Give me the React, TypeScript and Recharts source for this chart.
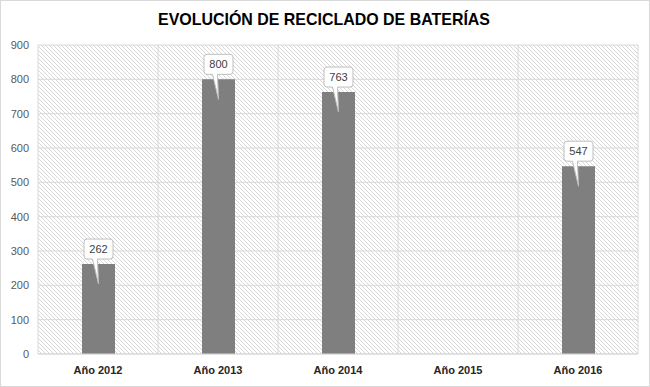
import React from "react";
import { BarChart, Bar, XAxis, YAxis, CartesianGrid, LabelList } from "recharts";

const categories = ["Año 2012", "Año 2013", "Año 2014", "Año 2015", "Año 2016"];
const values: (number | null)[] = [262, 800, 763, null, 547];
const yTicks = [0, 100, 200, 300, 400, 500, 600, 700, 800, 900];
const title = "EVOLUCIÓN DE RECICLADO DE BATERÍAS";

const data = categories.map((c, i) => ({ name: c, value: values[i] }));

const Callout = (props: any) => {
  const { x, y, width, value } = props;
  if (value === null || value === undefined) return null;
  const cx = x + width / 2;
  const w = 29;
  const h = 20;
  const r = 3;
  const left = cx - w / 2;
  const right = cx + w / 2;
  const boxBot = y - 5;
  const boxTop = boxBot - h;
  const tipY = y + 20;
  const d = `M${left + r},${boxTop} H${right - r} Q${right},${boxTop} ${right},${boxTop + r} V${boxBot - r} Q${right},${boxBot} ${right - r},${boxBot} H${cx - 1} L${cx},${tipY} L${cx - 6},${boxBot} H${left + r} Q${left},${boxBot} ${left},${boxBot - r} V${boxTop + r} Q${left},${boxTop} ${left + r},${boxTop} Z`;
  return (
    <g>
      <path d={d} fill="#ffffff" stroke="#bfbfbf" strokeWidth={1} />
      <text
        x={cx}
        y={boxTop + h / 2}
        textAnchor="middle"
        dominantBaseline="central"
        fontSize={11}
        fontFamily="Liberation Sans, Arial, sans-serif"
        fill="#404040"
      >
        {value}
      </text>
    </g>
  );
};

const boundaryGen = ({ offset }: any) => {
  const n = categories.length;
  const pts: number[] = [];
  for (let i = 0; i <= n; i++) pts.push(offset.left + (offset.width * i) / n);
  return pts;
};

export default function App() {
  return (
    <div style={{ position: "absolute", left: 0, top: 0, width: 650, height: 387, background: "#fff" }}>
      <svg width={0} height={0} style={{ position: "absolute" }}>
        <defs>
          <pattern id="hatch" patternUnits="userSpaceOnUse" width={4} height={4}>
            <rect width={4} height={4} fill="#ffffff" />
            <path d="M-1,-1 L5,5 M-1,3 L1,5 M3,-1 L5,1" stroke="#d4d4d4" strokeWidth={0.9} />
          </pattern>
        </defs>
      </svg>
      <div
        style={{
          position: "absolute",
          left: 0,
          top: 0,
          width: 648,
          height: 385,
          border: "1px solid #d9d9d9",
        }}
      />
      <svg width={650} height={40} style={{ position: "absolute", left: 0, top: 0 }}>
        <text
          x={158}
          y={25}
          textLength={332}
          lengthAdjust="spacingAndGlyphs"
          fontSize={17}
          fontWeight="bold"
          fontFamily="Liberation Sans, Arial, sans-serif"
          fill="#000000"
        >
          {title}
        </text>
      </svg>
      <div style={{ position: "absolute", left: 0, top: 0 }}>
        <BarChart
          width={650}
          height={387}
          data={data}
          margin={{ top: 45, right: 12, bottom: 0, left: 0 }}
        >
          <CartesianGrid
            fill="url(#hatch)"
            stroke="#d9d9d9"
            horizontal={true}
            vertical={true}
            verticalCoordinatesGenerator={boundaryGen}
          />
          <XAxis
            dataKey="name"
            height={33}
            tickLine={false}
            axisLine={{ stroke: "#d9d9d9" }}
            tickMargin={6}
            tick={{ fontSize: 11, fontWeight: "bold", fill: "#262626", fontFamily: "Liberation Sans, Arial, sans-serif" }}
          />
          <YAxis
            width={38}
            domain={[0, 900]}
            ticks={yTicks}
            tickLine={false}
            axisLine={false}
            tickMargin={3}
            tick={{ fontSize: 11, fill: "#595959", fontFamily: "Liberation Sans, Arial, sans-serif" }}
          />
          <Bar dataKey="value" fill="#7f7f7f" barSize={33} isAnimationActive={false}>
            <LabelList dataKey="value" content={Callout} />
          </Bar>
        </BarChart>
      </div>
    </div>
  );
}
